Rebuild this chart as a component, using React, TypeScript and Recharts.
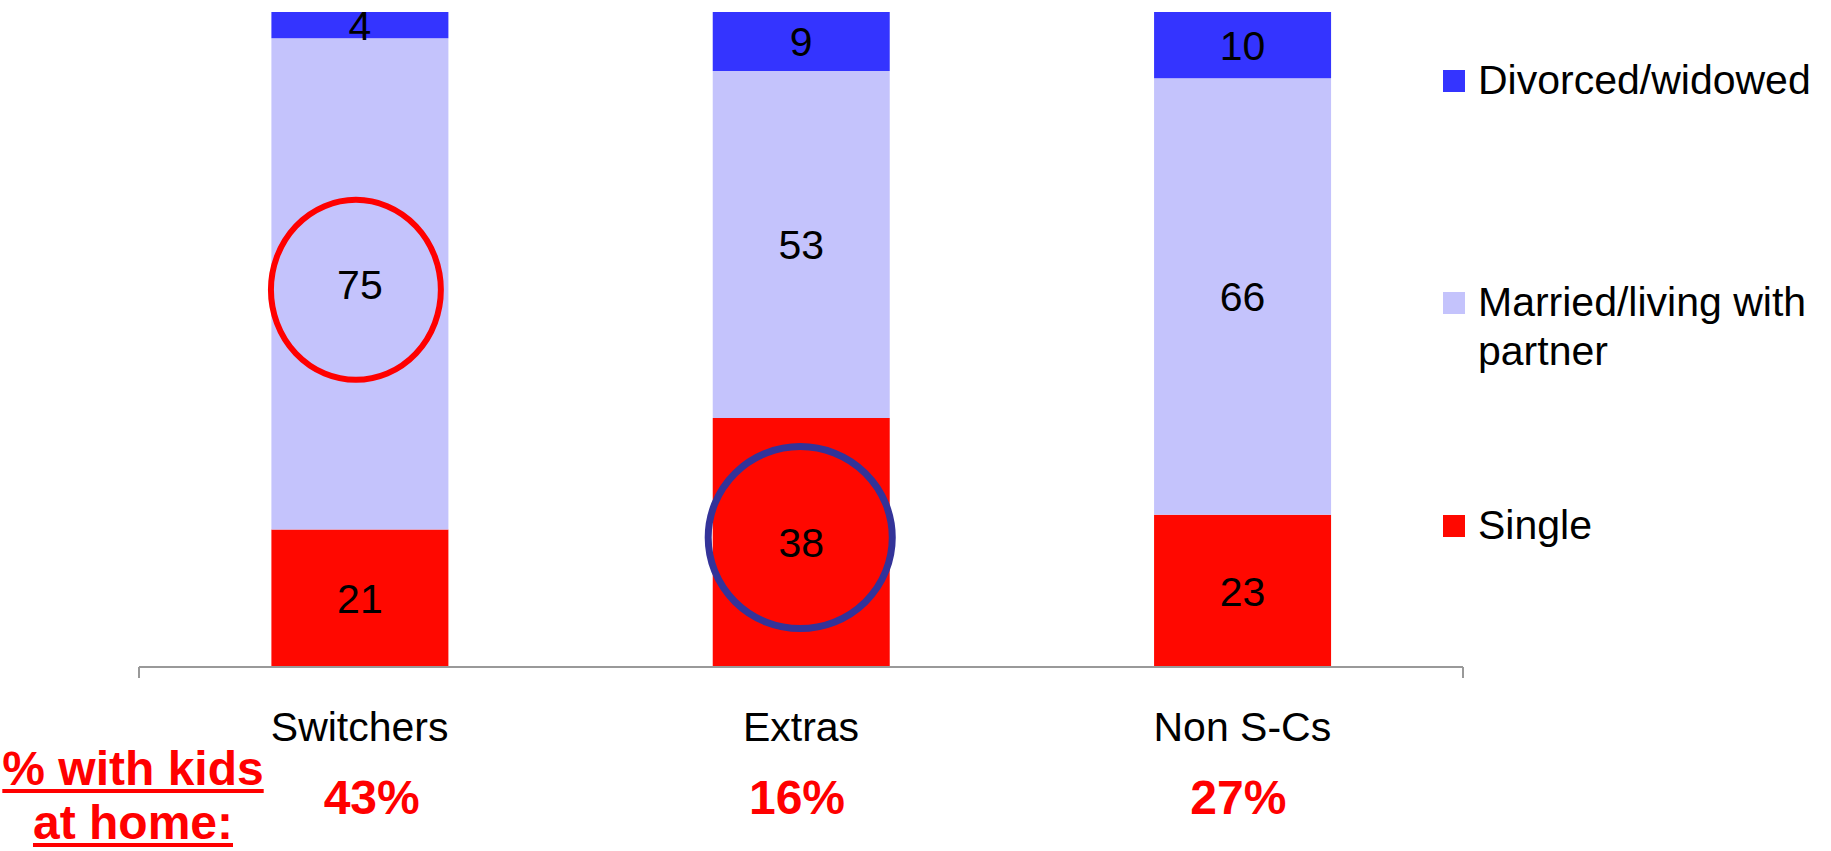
import React from 'react';
import { BarChart, Bar, XAxis, YAxis, LabelList, Legend } from 'recharts';

// ---- Data ----
const categories = ['Switchers', 'Extras', 'Non S-Cs'];
const singleValues = [21, 38, 23];
const marriedValues = [75, 53, 66];
const divorcedValues = [4, 9, 10];
const kidsAtHome = ['43%', '16%', '27%'];
const kidsLabelLines = ['% with kids', 'at home:'];

const seriesKeys = ['single', 'married', 'divorced'];
const seriesNames = ['Single', 'Married/living with partner', 'Divorced/widowed'];
const seriesColors = ['#FF0800', '#C4C3FC', '#3434FF'];
const legendOrder = ['divorced', 'married', 'single'];

// circled annotations
const highlightSeries = ['married', 'single'];
const highlightCategories = ['Switchers', 'Extras'];
const highlightColors = ['#FF0000', '#333399'];

const data = categories.map((c, i) => ({
  category: c,
  single: singleValues[i],
  married: marriedValues[i],
  divorced: divorcedValues[i],
}));

const FONT = '"Liberation Sans", Arial, sans-serif';
const LABEL_SIZE = 41;

const makeLabel = (seriesKey: string) => (props: any) => {
  const { x, y, width, height, value, index } = props;
  const cx = Number(x) + Number(width) / 2;
  const cy = Number(y) + Number(height) / 2;
  const hIdx = highlightSeries.findIndex(
    (s, k) => s === seriesKey && highlightCategories[k] === categories[index]
  );
  const isMarried = seriesKey === 'married';
  return (
    <g>
      {hIdx >= 0 && (
        <ellipse
          cx={cx - (isMarried ? 4 : 1)}
          cy={cy + (isMarried ? 6 : -5)}
          rx={Number(width) * (isMarried ? 0.48 : 0.52)}
          ry={isMarried ? 90 : 91}
          fill="none"
          stroke={highlightColors[hIdx]}
          strokeWidth={isMarried ? 6 : 7}
        />
      )}
      <text
        x={cx}
        y={cy + LABEL_SIZE * 0.358}
        textAnchor="middle"
        fontSize={LABEL_SIZE}
        fontFamily={FONT}
        fill="#000"
      >
        {value}
      </text>
    </g>
  );
};

const CategoryTick = (props: any) => {
  const { x, y, payload, index, visibleTicksCount } = props;
  const half = payload && typeof payload.offset === 'number' ? payload.offset : 0;
  return (
    <g>
      {index === 0 && half > 0 && (
        <line x1={x - half} x2={x - half} y1={y} y2={y + 11} stroke="#999999" strokeWidth={2} />
      )}
      {index === visibleTicksCount - 1 && half > 0 && (
        <line x1={x + half} x2={x + half} y1={y} y2={y + 11} stroke="#999999" strokeWidth={2} />
      )}
      <text x={x} y={y + 74} textAnchor="middle" fontSize={LABEL_SIZE} fontFamily={FONT} fill="#000">
        {payload.value}
      </text>
      <text
        x={x + (index === 0 ? 12 : -4)}
        y={y + 147}
        textAnchor="middle"
        fontSize={48}
        fontWeight="bold"
        fontFamily={FONT}
        fill="#FF0000"
      >
        {kidsAtHome[index]}
      </text>
    </g>
  );
};

const legendTops = [56, 278, 501];

const renderLegend = () => {
  return (
    <div style={{ position: 'relative', width: 388, height: 600, fontFamily: FONT }}>
      {legendOrder.map((key, i) => {
        const si = seriesKeys.indexOf(key);
        return (
          <div
            key={key}
            style={{
              position: 'absolute',
              left: 0,
              top: legendTops[i],
              display: 'flex',
              alignItems: 'flex-start',
              width: 388,
            }}
          >
            <div
              style={{
                width: 22,
                height: 22,
                marginTop: 14,
                background: seriesColors[si],
                flex: '0 0 auto',
              }}
            />
            <div
              style={{
                marginLeft: 13,
                width: 345,
                fontSize: 41,
                lineHeight: '49px',
                color: '#000',
                textAlign: 'left',
              }}
            >
              {seriesNames[si]}
            </div>
          </div>
        );
      })}
    </div>
  );
};

export default function App() {
  return (
    <div
      style={{
        position: 'absolute',
        left: 0,
        top: 0,
        width: 1831,
        height: 851,
        background: '#fff',
        overflow: 'hidden',
      }}
    >
      <BarChart
        width={1831}
        height={851}
        data={data}
        stackOffset="expand"
        barCategoryGap="30%"
        margin={{ top: 12, right: 368, bottom: 0, left: 139 }}
      >
        <YAxis hide domain={[0, 1]} />
        <XAxis
          dataKey="category"
          height={184}
          tickSize={0}
          tickMargin={0}
          tickLine={false}
          axisLine={{ stroke: '#999999', strokeWidth: 2 }}
          tick={<CategoryTick />}
          interval={0}
        />
        {seriesKeys.map((key, i) => (
          <Bar
            key={key}
            dataKey={key}
            name={seriesNames[i]}
            stackId="a"
            fill={seriesColors[i]}
            isAnimationActive={false}
          >
            <LabelList dataKey={key} content={makeLabel(key)} />
          </Bar>
        ))}
        <Legend
          layout="vertical"
          align="center"
          verticalAlign="middle"
          content={renderLegend}
          wrapperStyle={{ position: 'absolute', left: 1443, top: 0, width: 388, height: 600 }}
        />
      </BarChart>
      <div
        style={{
          position: 'absolute',
          left: 0,
          top: 742,
          width: 266,
          textAlign: 'center',
          fontFamily: FONT,
          fontWeight: 'bold',
          fontSize: 48,
          lineHeight: '54px',
          color: '#FF0000',
        }}
      >
        {kidsLabelLines.map((l) => (
          <div key={l}>
            <span
              style={{
                textDecoration: 'underline',
                textDecorationThickness: '4px',
                textUnderlineOffset: '4px',
              }}
            >
              {l}
            </span>
          </div>
        ))}
      </div>
    </div>
  );
}
